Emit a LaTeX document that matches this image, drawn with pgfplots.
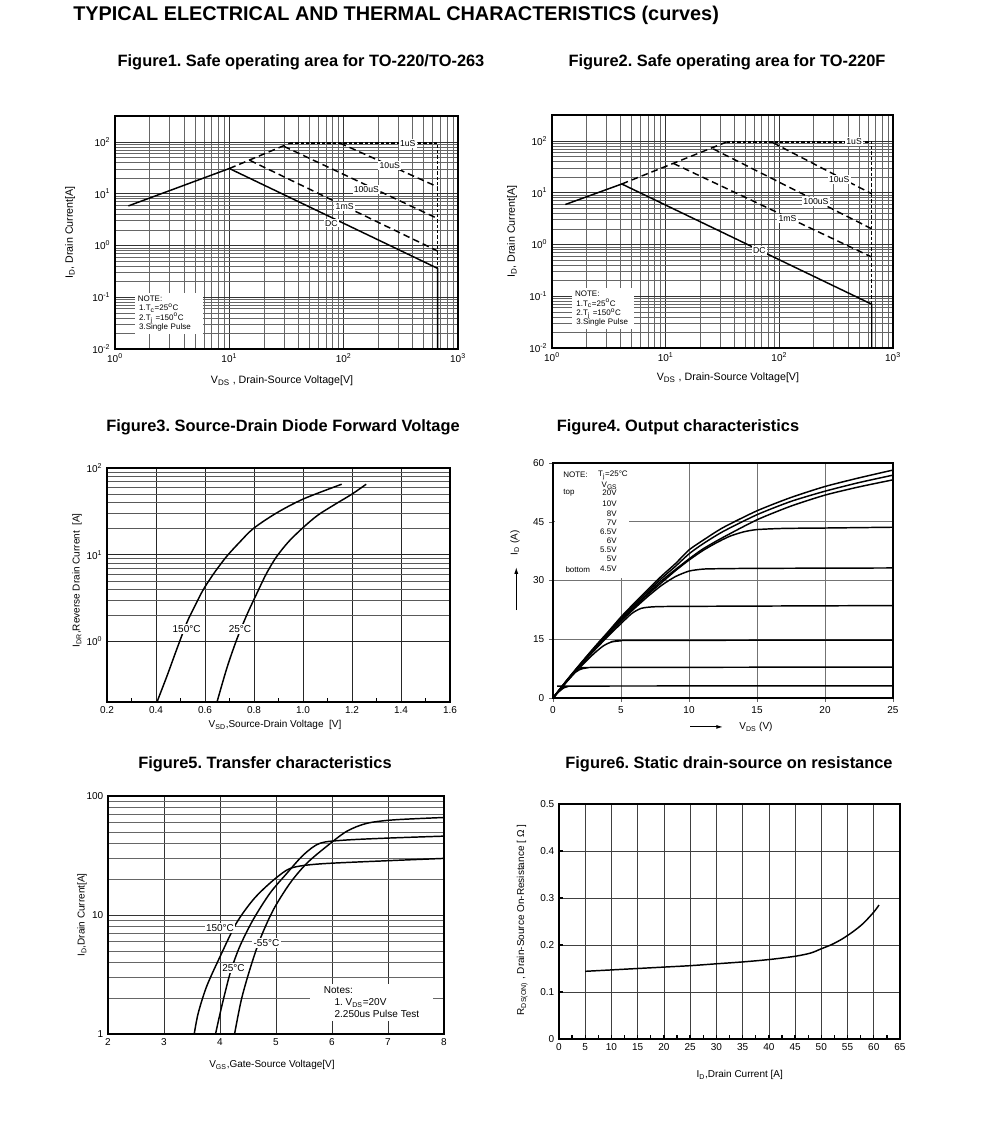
\documentclass[border=0pt]{standalone}
\usepackage{pgfplots}
\pgfplotsset{compat=1.18}
\usepackage{fontspec}
\setmainfont{Liberation Sans}
\usetikzlibrary{arrows.meta}
\frenchspacing

\pgfplotsset{
  sheet/.style={scale only axis, anchor=south west,
    axis line style={line width=1.2pt, black},
    tick label style={font=\fontsize{7.5}{9}\selectfont},
    label style={font=\fontsize{7.5}{9}\selectfont},
    /pgf/number format/assume math mode=true,
    cycle list={{black, no markers, line width=1.1pt}},
    every axis plot/.append style={line width=1.1pt, black, no markers},
  },
  soa/.style={xmin=1, xmax=1000, ymin=0.01, ymax=316,
    xtick={1,10,100,1000},
    xticklabels={10\textsuperscript{0},10\textsuperscript{1},10\textsuperscript{2},10\textsuperscript{3}},
    ytick={0.01,0.1,1,10,100},
    yticklabels={10\textsuperscript{-2},10\textsuperscript{-1},10\textsuperscript{0},10\textsuperscript{1},10\textsuperscript{2}},
    grid=both, major grid style={black!80, line width=0.45pt},
    minor grid style={black!60, line width=0.35pt}, tick style={draw=none},
    label style={font=\fontsize{8}{9.5}\selectfont}},
}
\tikzset{
  lbl/.style={fill=white, inner sep=1pt, font=\fontsize{6.5}{7}\selectfont},
  notebox/.style={fill=white, anchor=north west, align=left, inner sep=2pt,
    font=\fontsize{6}{7}\selectfont},
  ftitle/.style={inner sep=0pt, font=\fontsize{12.3}{14}\selectfont\bfseries},
}

\begin{document}
\begin{tikzpicture}
\useasboundingbox[fill=white] (0,0) rectangle (743.25pt,849.75pt);

% ---------- titles ----------
\node[anchor=west, inner sep=0pt, font=\fontsize{14.9}{17}\selectfont\bfseries] at (54.75pt,838.5pt)
  {TYPICAL ELECTRICAL AND THERMAL CHARACTERISTICS (curves)};
\node[ftitle] at (225.75pt,803.25pt) {Figure1. Safe operating area for TO-220/TO-263};
\node[ftitle] at (545.25pt,803.25pt) {Figure2. Safe operating area for TO-220F};
\node[ftitle] at (212.25pt,529.5pt) {Figure3. Source-Drain Diode Forward Voltage};
\node[ftitle] at (508.5pt,529.5pt) {Figure4. Output characteristics};
\node[ftitle] at (198.75pt,276.75pt) {Figure5. Transfer characteristics};
\node[ftitle] at (546.75pt,276.75pt) {Figure6. Static drain-source on resistance};

% ---------- Figure 1 ----------
\begin{axis}[sheet, xmode=log, ymode=log, soa, at={(86.25pt,588pt)}, width=257.25pt, height=174.75pt,
  xlabel={V\textsubscript{DS} , Drain-Source Voltage[V]},
  ylabel={I\textsubscript{D}, Drain Current[A]},
  xlabel style={at={(axis description cs:0.487,-0.137)}, anchor=center},
  ylabel style={at={(axis description cs:-0.131,0.5)}, anchor=center}]
\addplot coordinates {(1.31,5.8) (10,30.6) (664,0.36) (664,0.01)};
\addplot[dash pattern=on 5pt off 3pt] coordinates {(10,30.6) (34,95)};
\addplot[dash pattern=on 2.5pt off 1.5pt] coordinates {(34,95) (664,95) (664,0.01)};
\addplot[dash pattern=on 5pt off 3pt] coordinates {(92.5,95) (664,13.5)};
\addplot[dash pattern=on 5pt off 3pt] coordinates {(30,82) (664,3.3)};
\addplot[dash pattern=on 5pt off 3pt] coordinates {(15.1,44) (664,0.78)};
\node[lbl] at (axis cs:364,94) {1uS};
\node[lbl] at (axis cs:253,35) {10uS};
\node[lbl] at (axis cs:158,11.9) {100uS};
\node[lbl] at (axis cs:102,5.7) {1mS};
\node[lbl] at (axis cs:78,2.7) {DC};
\node[notebox, text width=47pt, minimum height=30pt] at (rel axis cs:0.058,0.24)
  {NOTE:\\ \,1.T\textsubscript{c}=25\textsuperscript{o}C\\ \,2.T\textsubscript{j} =150\textsuperscript{o}C\\ \,3.Single Pulse};
\end{axis}

% ---------- Figure 2 ----------
\begin{axis}[sheet, xmode=log, ymode=log, soa, at={(414pt,588.75pt)}, width=255.75pt, height=174.75pt,
  xlabel={V\textsubscript{DS} , Drain-Source Voltage[V]},
  ylabel={I\textsubscript{D}, Drain Current[A]},
  xlabel style={at={(axis description cs:0.516,-0.129)}, anchor=center},
  ylabel style={at={(axis description cs:-0.117,0.5)}, anchor=center}]
\addplot coordinates {(1.31,5.9) (4.11,14.7) (650,0.07) (650,0.01)};
\addplot[dash pattern=on 5pt off 3pt] coordinates {(4.11,14.7) (34.3,95)};
\addplot[dash pattern=on 2.5pt off 1.5pt] coordinates {(34.3,95) (650,95) (650,0.01)};
\addplot[dash pattern=on 5pt off 3pt] coordinates {(88,92) (650,9.5)};
\addplot[dash pattern=on 5pt off 3pt] coordinates {(26.2,70) (650,2.0)};
\addplot[dash pattern=on 5pt off 3pt] coordinates {(11.7,36.7) (650,0.57)};
\node[lbl] at (axis cs:455,96) {1uS};
\node[lbl] at (axis cs:336,17.8) {10uS};
\node[lbl] at (axis cs:210,6.75) {100uS};
\node[lbl] at (axis cs:118,3.14) {1mS};
\node[lbl] at (axis cs:66.8,0.77) {DC};
\node[notebox, text width=42pt, minimum height=31pt] at (rel axis cs:0.059,0.258)
  {NOTE:\\ \,1.T\textsubscript{c}=25\textsuperscript{o}C\\ \,2.T\textsubscript{j} =150\textsuperscript{o}C\\ \,3.Single Pulse};
\end{axis}

% ---------- Figure 3 ----------
\begin{axis}[sheet, ymode=log, at={(80.25pt,323.25pt)}, width=257.25pt, height=175.5pt,
  xmin=0.2, xmax=1.6, ymin=0.2, ymax=100,
  xtick={0.2,0.4,...,1.6}, minor x tick num=1,
  xticklabel style={/pgf/number format/.cd, fixed, fixed zerofill, precision=1},
  ytick={1,10,100},
  yticklabels={10\textsuperscript{0},10\textsuperscript{1},10\textsuperscript{2}},
  xmajorgrids, ymajorgrids, yminorgrids,
  major grid style={black!85, line width=0.45pt}, minor grid style={black!65, line width=0.35pt},
  xtick pos=bottom, ytick pos=left, tick style={black, line width=0.8pt},
  minor tick length=3pt, major tick length=0pt,
  minor y tick style={draw=none}, major y tick style={draw=none},
  xlabel={V\textsubscript{SD},Source-Drain Voltage\ \ [V]},
  ylabel={I\textsubscript{DR},Reverse Drain Current\ \ [A]},
  xlabel style={at={(axis description cs:0.49,-0.098)}, anchor=center},
  ylabel style={at={(axis description cs:-0.087,0.52)}, anchor=center}]
\addplot[smooth, tension=0.5] coordinates {(0.404,0.2) (0.445,0.4) (0.485,0.816) (0.526,1.65) (0.56,2.6) (0.594,4.0) (0.64,6.3) (0.689,9.6) (0.74,13.8) (0.798,20.1) (0.893,30.4) (1.002,44) (1.158,65)};
\addplot[smooth, tension=0.5] coordinates {(0.649,0.2) (0.69,0.5) (0.730,1.06) (0.77,2.0) (0.81,3.5) (0.85,6.0) (0.89,9.3) (0.94,14) (1.0,20.5) (1.06,28.5) (1.13,38) (1.2,50) (1.258,65)};
\node[fill=white, inner sep=1pt, font=\fontsize{7.5}{9}\selectfont] at (axis cs:0.525,1.38) {150°C};
\node[fill=white, inner sep=1pt, font=\fontsize{7.5}{9}\selectfont] at (axis cs:0.743,1.38) {25°C};
\end{axis}

% ---------- Figure 4 ----------
\begin{axis}[sheet, at={(414.75pt,326.25pt)}, width=255pt, height=176.25pt,
  xmin=0, xmax=25, ymin=0, ymax=60, clip=false,
  xtick={0,5,...,25}, ytick={0,15,...,60},
  grid=major, major grid style={black!55, line width=0.45pt},
  tick align=outside, xtick pos=bottom, ytick pos=left, major tick length=3pt,
  tick style={black!60},
  xlabel={V\textsubscript{DS} (V)},
  ylabel={I\textsubscript{D} (A)},
  xlabel style={at={(axis description cs:0.597,-0.123)}, anchor=center},
  ylabel style={at={(axis description cs:-0.112,0.66)}, anchor=center}]
\fill[white] (axis cs:0.15,30.6) rectangle (axis cs:5.6,59.7);
\draw[line width=0.8pt, -{Latex[length=5pt,width=3pt]}] (axis description cs:0.403,-0.123) -- (axis description cs:0.5,-0.123);
\draw[line width=0.8pt, -{Latex[length=5pt,width=3pt]}] (axis description cs:-0.108,0.374) -- (axis description cs:-0.108,0.557);
\addplot[smooth, tension=0.4] coordinates {(0,0) (1,4.5) (2,8.7) (3,12.8) (4,16.7) (5,20.7) (6,24.3) (7,27.8) (8,31.2) (9,34.3) (10,37.8) (11,40.2) (12.5,43.5) (15,47.8) (17.5,51.2) (20,54) (22.5,56.2) (25,58.2)};
\addplot[smooth, tension=0.4] coordinates {(0,0) (1,4.4) (2,8.6) (3,12.6) (4,16.5) (5,20.3) (6,23.9) (7,27.3) (8,30.6) (9,33.6) (10,36.8) (11,39.3) (12.5,42.5) (15,46.8) (17.5,50.2) (20,52.8) (22.5,55) (25,56.9)};
\addplot[smooth, tension=0.4] coordinates {(0,0) (1,4.3) (2,8.5) (3,12.5) (4,16.3) (5,20) (6,23.5) (7,26.8) (8,30) (9,32.8) (10,35.5) (11,38) (12.5,41) (15,45.5) (17.5,49) (20,51.8) (22.5,53.9) (25,55.7)};
\addplot[smooth, tension=0.4] coordinates {(0,0) (1,4.3) (2,8.4) (3,12.4) (4,16.2) (5,19.8) (6,23.2) (7,26.5) (8,29.5) (9,32.5) (10,35.2) (11,37.6) (12,39.6) (13,41.3) (14,42.4) (15,43) (17,43.3) (20,43.4) (25,43.6)};
\addplot[smooth, tension=0.4] coordinates {(0,0) (1,4.3) (2,8.4) (3,12.3) (4,16) (5,19.6) (6,22.9) (7,26) (8,28.8) (9,31) (10,32.4) (11,32.9) (12,33) (15,33.1) (25,33.2)};
\addplot[smooth, tension=0.4] coordinates {(0,0) (1,4.2) (2,8.2) (3,12) (4,15.6) (5,19) (5.8,21.6) (6.5,22.9) (7.5,23.3) (10,23.4) (25,23.6)};
\addplot[smooth, tension=0.4] coordinates {(0,0) (1,4.1) (2,7.9) (3,11.3) (3.7,13.3) (4.3,14.3) (5,14.6) (6,14.7) (25,14.8)};
\addplot[smooth, tension=0.4] coordinates {(0,0) (0.5,2.2) (1,4.3) (1.5,6.2) (2,7.3) (2.5,7.7) (3.5,7.8) (25,7.9)};
\addplot[smooth, tension=0.4] coordinates {(0,0) (0.4,1.5) (0.8,2.6) (1.1,2.95) (1.6,3.05) (25,3.1)};
\begin{scope}[font=\fontsize{6}{7}\selectfont, inner sep=0pt]
\node[anchor=west] at (axis cs:0.74,56.9) {NOTE:};
\node[anchor=west] at (axis cs:3.3,56.9) {T\textsubscript{j}=25°C};
\node[anchor=east] at (axis cs:4.75,54.2) {V\textsubscript{GS}};
\node[anchor=west] at (axis cs:0.74,52.3) {top};
\node[anchor=east] at (axis cs:4.7,52.3) {20V};
\node[anchor=east] at (axis cs:4.7,49.6) {10V};
\node[anchor=east] at (axis cs:4.7,47.0) {8V};
\node[anchor=east] at (axis cs:4.7,44.7) {7V};
\node[anchor=east] at (axis cs:4.7,42.4) {6.5V};
\node[anchor=east] at (axis cs:4.7,40.1) {6V};
\node[anchor=east] at (axis cs:4.7,37.8) {5.5V};
\node[anchor=east] at (axis cs:4.7,35.5) {5V};
\node[anchor=west] at (axis cs:0.9,32.9) {bottom};
\node[anchor=east] at (axis cs:4.7,32.9) {4.5V};
\end{scope}
\end{axis}

% ---------- Figure 5 ----------
\begin{axis}[sheet, ymode=log, at={(81pt,74.25pt)}, width=252pt, height=178.5pt,
  xmin=2, xmax=8, ymin=1, ymax=100,
  xtick={2,3,...,8}, ytick={1,10,100}, yticklabels={1,10,100},
  xmajorgrids, ymajorgrids, yminorgrids,
  major grid style={black!80, line width=0.45pt}, minor grid style={black!60, line width=0.35pt},
  tick style={draw=none},
  xlabel={V\textsubscript{GS},Gate-Source Voltage[V]},
  ylabel={I\textsubscript{D},Drain Current[A]},
  xlabel style={at={(axis description cs:0.488,-0.13)}, anchor=center},
  ylabel style={at={(axis description cs:-0.077,0.5)}, anchor=center}]
\node[fill=white, anchor=north west, align=left, inner sep=2pt, font=\fontsize{7.5}{9}\selectfont, minimum width=92pt] at (rel axis cs:0.601,0.21)
  {Notes:\\ \hspace{8pt}1. V\textsubscript{DS}=20V\\ \hspace{8pt}2.250us Pulse Test};
\addplot[smooth, tension=0.5] coordinates {(3.54,1) (3.61,1.49) (3.76,2.5) (4.0,4.46) (4.29,8.5) (4.59,13.4) (4.89,18.5) (5.19,23.8) (5.43,25.8) (5.9,27.1) (7,28.6) (8,29.9)};
\addplot[smooth, tension=0.5] coordinates {(3.92,1) (4.03,1.70) (4.18,3.23) (4.35,5.4) (4.59,9.1) (4.89,15.2) (5.19,22.3) (5.49,32) (5.78,40) (6.2,42.5) (7,44.3) (8,46)};
\addplot[smooth, tension=0.5] coordinates {(4.26,1) (4.38,1.93) (4.53,3.45) (4.71,6.17) (4.95,11) (5.25,18.5) (5.55,27.2) (5.9,37.6) (6.26,50.4) (6.62,58.9) (7.1,63) (8,66)};
\node[fill=white, inner sep=1pt, font=\fontsize{7.5}{9}\selectfont] at (axis cs:4.0,7.8) {150°C};
\node[fill=white, inner sep=1pt, font=\fontsize{7.5}{9}\selectfont] at (axis cs:4.83,5.8) {-55°C};
\node[fill=white, inner sep=1pt, font=\fontsize{7.5}{9}\selectfont] at (axis cs:4.24,3.6) {25°C};
\end{axis}

% ---------- Figure 6 ----------
\begin{axis}[sheet, at={(419.25pt,70.5pt)}, width=255.75pt, height=176.25pt,
  xmin=0, xmax=65, ymin=0, ymax=0.5,
  xtick={0,5,...,65}, ytick={0,0.1,...,0.5}, minor x tick num=1,
  yticklabel style={/pgf/number format/.cd, fixed, precision=1},
  grid=major, major grid style={black!75, line width=0.45pt},
  xtick pos=bottom, ytick pos=left, tick style={black, line width=1pt},
  major tick length=3pt, minor tick length=3pt,
  xlabel={I\textsubscript{D},Drain Current [A]},
  ylabel={R\textsubscript{DS(ON)} , Drain-Source On-Resistance [ Ω ]},
  xlabel style={at={(axis description cs:0.53,-0.153)}, anchor=center},
  ylabel style={at={(axis description cs:-0.108,0.506)}, anchor=center}]
\addplot[smooth, tension=0.5] coordinates {(5,0.144) (10,0.147) (15,0.150) (20,0.153) (25,0.156) (30,0.160) (35,0.164) (40,0.169) (45,0.176) (48,0.183) (50,0.192) (52,0.201) (54,0.213) (56,0.228) (58,0.246) (60,0.270) (61,0.285)};
\end{axis}
\end{tikzpicture}
\end{document}
